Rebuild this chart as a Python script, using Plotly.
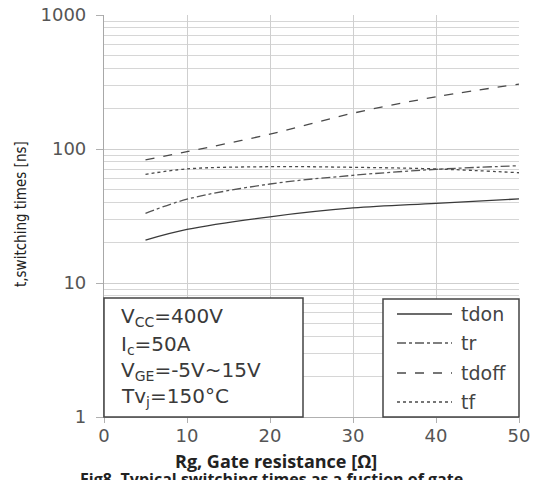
import plotly.graph_objects as go

rg = [5, 10, 20, 30, 40, 50]
tdon = [20.9, 25.1, 31.2, 36.3, 39.3, 42.4]
tr = [33.1, 42.2, 54.8, 63.6, 70.5, 75.0]
tdoff = [82.8, 95.5, 129, 185, 245, 305]
tf = [64.7, 71.0, 73.8, 73.0, 71.0, 66.5]

series = [
    ("tdon", tdon, "solid", "#3a3a3a"),
    ("tr", tr, "dashdot", "#555555"),
    ("tdoff", tdoff, "dash", "#4a4a4a"),
    ("tf", tf, "dot", "#4a4a4a"),
]

cond_lines = ["V<sub>CC</sub>=400V", "I<sub>c</sub>=50A", "V<sub>GE</sub>=-5V~15V", "Tv<sub>j</sub>=150°C"]

W, H = 533, 480
L, R, T, B = 104, 519, 15, 417  # plot area in page pixels
PW, PH = R - L, B - T


def px(xp):
    return (xp - L) / PW


def py(yp):
    return (B - yp) / PH


fig = go.Figure()
for name, vals, dash, col in series:
    fig.add_trace(go.Scatter(x=rg, y=vals, mode="lines", name=name,
                             line=dict(color=col, width=1.3, dash=dash, shape="spline"),
                             showlegend=False))

minor_vals = [m * 10 ** e for e in range(0, 3) for m in range(2, 10)]

fig.update_layout(
    width=W, height=H,
    margin=dict(l=L, r=W - R, t=T, b=H - B, autoexpand=False),
    showlegend=False,
    paper_bgcolor="white", plot_bgcolor="white",
    font=dict(family="DejaVu Sans", color="#505050", size=17),
    xaxis=dict(range=[0, 50], tickvals=[0, 10, 20, 30, 40, 50], automargin=False,
               showgrid=True, gridcolor="#cfcfcf", gridwidth=1.2,
               showline=True, linecolor="#b0b0b0", linewidth=1.2,
               ticks="outside", ticklen=5, tickcolor="#b0b0b0",
               ticklabeloverflow="allow", ticklabelstandoff=-3,
               tickfont=dict(size=18, color="#555555"), zeroline=False),
    yaxis=dict(type="log", range=[0, 3], tickvals=[1, 10, 100, 1000], automargin=False,
               ticktext=["1", "10", "100", "1000"],
               showgrid=True, gridcolor="#cfcfcf", gridwidth=1.2,
               showline=True, linecolor="#a8a8a8", linewidth=1.2,
               ticks="outside", ticklen=7, tickcolor="#b0b0b0",
               ticklabelstandoff=6, ticklabeloverflow="allow",
               minor=dict(tickvals=minor_vals, showgrid=True, gridcolor="#d6d6d6", gridwidth=1.2, ticks=""),
               tickfont=dict(size=18, color="#555555"), zeroline=False),
)

shapes = []
# condition box
shapes.append(dict(type="rect", xref="paper", yref="paper", x0=0.0, x1=px(303),
                   y0=0, y1=py(298), fillcolor="white",
                   line=dict(color="#444444", width=1.5), layer="above"))
# legend box
shapes.append(dict(type="rect", xref="paper", yref="paper", x0=px(383), x1=1.0,
                   y0=0, y1=py(299), fillcolor="white",
                   line=dict(color="#444444", width=1.5), layer="above"))

annotations = []
leg_y = [314, 343, 373, 402]
for (name, vals, dash, col), yy in zip(series, leg_y):
    shapes.append(dict(type="line", xref="paper", yref="paper",
                       x0=px(397), x1=px(452), y0=py(yy), y1=py(yy),
                       line=dict(color=col, width=1.3, dash=dash), layer="above"))
    annotations.append(dict(xref="paper", yref="paper", x=px(459), y=py(yy),
                            text=name, showarrow=False, xanchor="left", yanchor="middle",
                            font=dict(size=19, color="#444444", family="DejaVu Sans")))

cond_y = [317, 345, 371, 397]
for t, yy in zip(cond_lines, cond_y):
    annotations.append(dict(xref="paper", yref="paper", x=px(119), y=py(yy),
                            text=t, showarrow=False, xanchor="left", yanchor="middle",
                            font=dict(size=20, color="#3a3a3a", family="DejaVu Sans")))

annotations.append(dict(xref="paper", yref="paper", x=px(21), y=py(214),
                        text="t,switching times [ns]", textangle=-90, showarrow=False,
                        xanchor="center", yanchor="middle",
                        font=dict(size=15, color="#222222", family="DejaVu Sans Condensed")))
annotations.append(dict(xref="paper", yref="paper", x=px(276), y=py(461),
                        text="<b>Rg, Gate resistance [Ω]</b>", showarrow=False,
                        xanchor="center", yanchor="middle",
                        font=dict(size=18, color="#222222", family="Open Sans")))
annotations.append(dict(xref="paper", yref="paper", x=px(78), y=py(479),
                        text="<b>Fig8. Typical switching times as a fuction of gate</b>", showarrow=False,
                        xanchor="left", yanchor="middle",
                        font=dict(size=16, color="#222222", family="Open Sans")))

fig.update_layout(shapes=shapes, annotations=annotations)
fig.write_html("out.html", config={"displayModeBar": False},
               post_script="document.body.style.margin='0px';")
